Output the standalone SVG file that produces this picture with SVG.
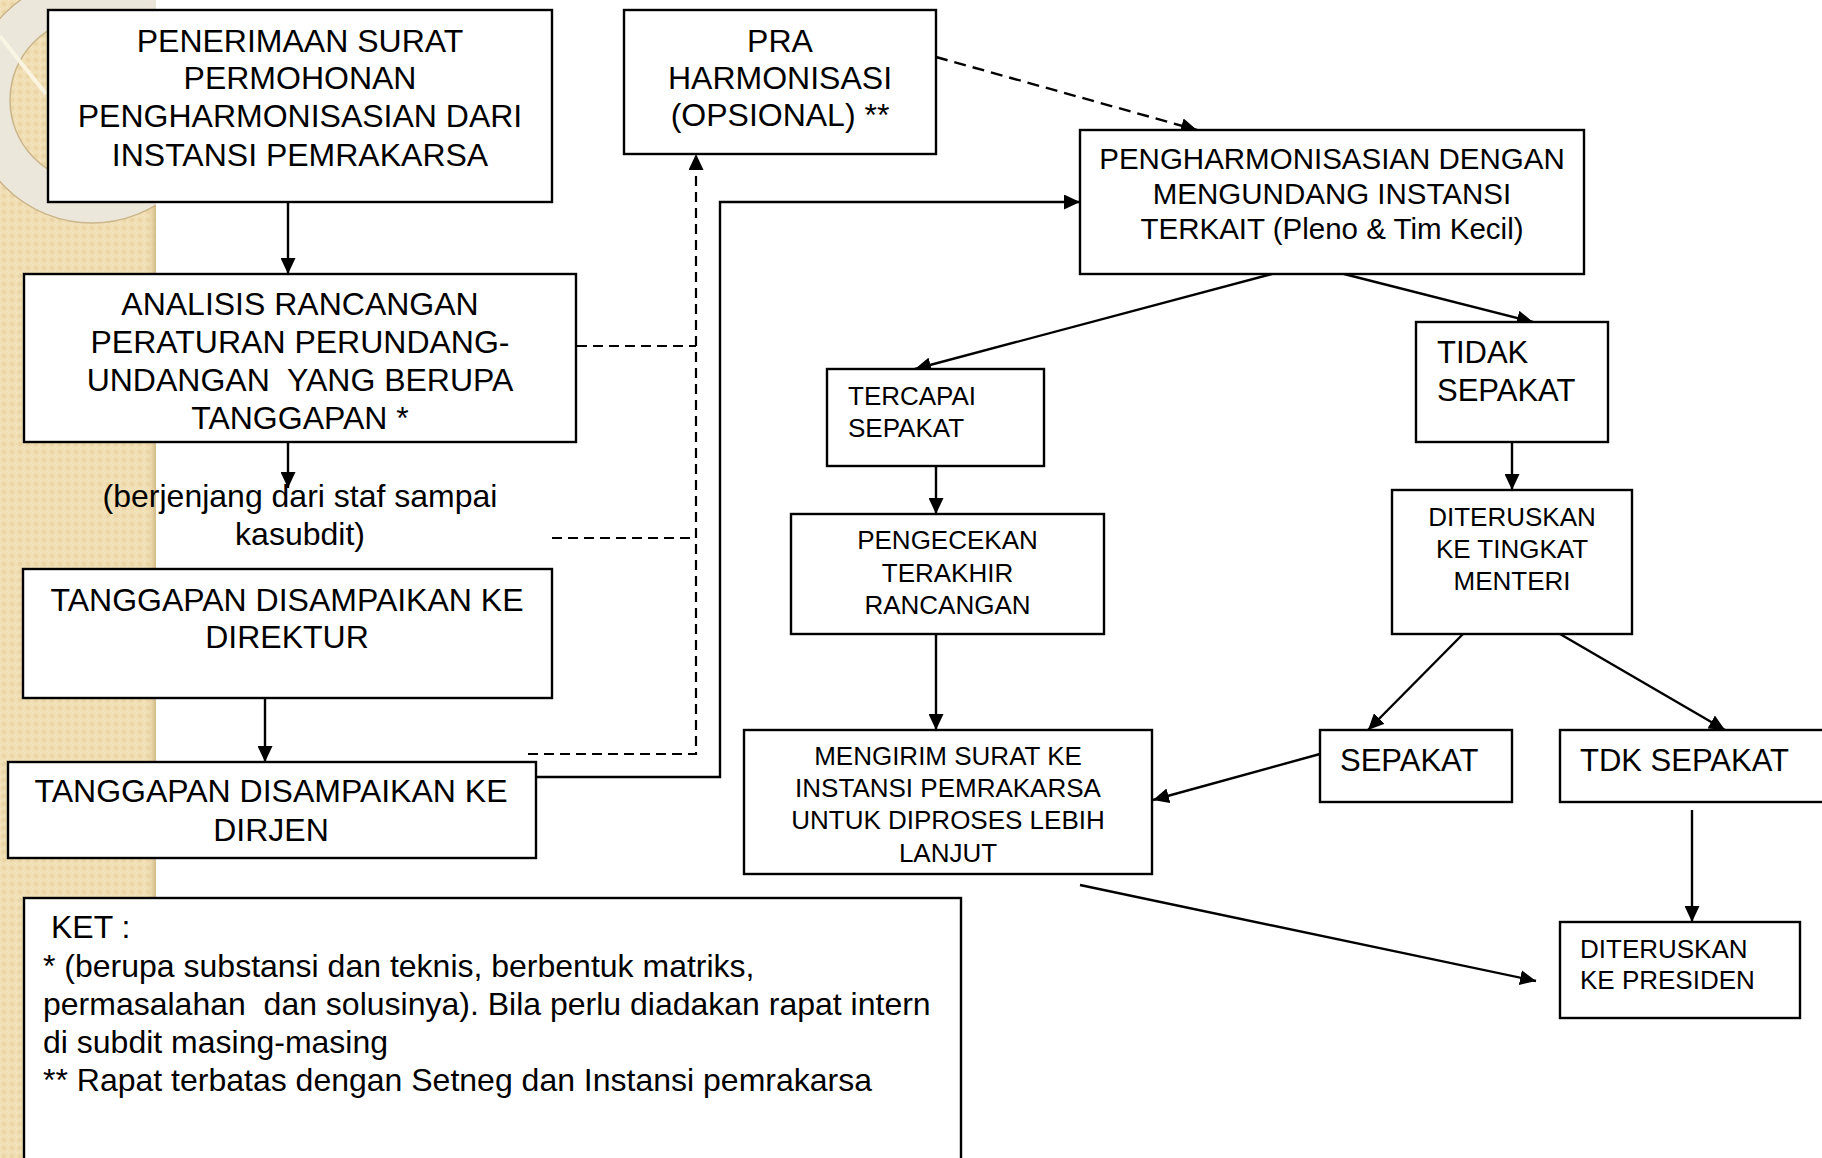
<svg xmlns="http://www.w3.org/2000/svg" width="1822" height="1158" viewBox="0 0 1822 1158">
<style>
.box{fill:#fff;stroke:#000;stroke-width:2.4}
.t{font-family:"Liberation Sans",Arial,sans-serif;fill:#000}
.c{text-anchor:middle}
.f32{font-size:32px}
.f31{font-size:31px}
.f29{font-size:29.5px}
.f26{font-size:26px}
.ln{stroke:#000;stroke-width:2.4;fill:none}
.dash{stroke-dasharray:10 6;stroke-width:2.2}
</style>
<defs>
<pattern id="bp" width="8" height="8" patternUnits="userSpaceOnUse">
<rect width="8" height="8" fill="#f1dfb6"/>
<circle cx="4" cy="4" r="2.3" fill="#ead5a7"/>
<circle cx="0" cy="0" r="1.2" fill="#f6e8c8"/>
<circle cx="8" cy="8" r="1.2" fill="#f6e8c8"/>
</pattern>
<linearGradient id="edge" x1="0" y1="0" x2="1" y2="0">
<stop offset="0" stop-color="#e3cd9b" stop-opacity="0"/>
<stop offset="1" stop-color="#d2ba85"/>
</linearGradient>
<clipPath id="strip"><rect x="0" y="0" width="156" height="1158"/></clipPath>
<marker id="ah" markerUnits="userSpaceOnUse" markerWidth="17" markerHeight="15" refX="16" refY="7.5" orient="auto">
<path d="M0,0 L16,7.5 L0,15 z" fill="#000"/>
</marker>
</defs>

<rect x="0" y="0" width="1822" height="1158" fill="#fff"/>
<g id="background">
<rect x="0" y="0" width="156" height="1158" fill="url(#bp)"/>
<rect x="148" y="0" width="8" height="1158" fill="url(#edge)"/>
<g clip-path="url(#strip)">
<circle cx="92" cy="100" r="102.5" fill="none" stroke="#ebe7de" stroke-width="41" opacity="0.92"/>
<circle cx="92" cy="100" r="123" fill="none" stroke="#cbb68b" stroke-width="1.5"/>
<circle cx="92" cy="100" r="82" fill="none" stroke="#cbb68b" stroke-width="1.5"/>
<path d="M0,36 Q20,62 46,94" fill="none" stroke="#fbf6e6" stroke-width="4" opacity="0.9"/>
</g>
</g>

<g id="connectors">
<line class="ln" x1="288" y1="202" x2="288" y2="274" marker-end="url(#ah)"/>
<line class="ln" x1="288" y1="442" x2="288" y2="488" marker-end="url(#ah)"/>
<line class="ln" x1="265" y1="698" x2="265" y2="762" marker-end="url(#ah)"/>
<line class="ln dash" x1="577" y1="346" x2="696" y2="346"/>
<line class="ln dash" x1="552" y1="538" x2="696" y2="538"/>
<path class="ln dash" d="M528,754 H696 V154" marker-end="url(#ah)"/>
<path class="ln" d="M528,777 H720 V202 H1080" marker-end="url(#ah)"/>
<line class="ln" x1="936" y1="57" x2="1197" y2="130" stroke-dasharray="12 7" marker-end="url(#ah)"/>
<line class="ln" x1="1272" y1="274" x2="915" y2="369" marker-end="url(#ah)"/>
<line class="ln" x1="1344" y1="274" x2="1533" y2="322" marker-end="url(#ah)"/>
<line class="ln" x1="936" y1="466" x2="936" y2="514" marker-end="url(#ah)"/>
<line class="ln" x1="936" y1="634" x2="936" y2="730" marker-end="url(#ah)"/>
<line class="ln" x1="1512" y1="442" x2="1512" y2="490" marker-end="url(#ah)"/>
<line class="ln" x1="1463" y1="634" x2="1368" y2="730" marker-end="url(#ah)"/>
<line class="ln" x1="1560" y1="634" x2="1725" y2="730" marker-end="url(#ah)"/>
<line class="ln" x1="1320" y1="754" x2="1153" y2="800" marker-end="url(#ah)"/>
<line class="ln" x1="1692" y1="810" x2="1692" y2="922" marker-end="url(#ah)"/>
<line class="ln" x1="1080" y1="885" x2="1536" y2="981" marker-end="url(#ah)"/>
</g>

<g id="n-penerimaan">
<rect class="box" x="48" y="10" width="504" height="192"/>
<text class="t c f32" x="300" y="52">PENERIMAAN SURAT</text>
<text class="t c f32" x="300" y="89">PERMOHONAN</text>
<text class="t c f32" x="300" y="127">PENGHARMONISASIAN DARI</text>
<text class="t c f32" x="300" y="166">INSTANSI PEMRAKARSA</text>
</g>

<g id="n-pra">
<rect class="box" x="624" y="10" width="312" height="144"/>
<text class="t c f32" x="780" y="52">PRA</text>
<text class="t c f32" x="780" y="89">HARMONISASI</text>
<text class="t c f32" x="780" y="126">(OPSIONAL) **</text>
</g>

<g id="n-pengharmonisasian">
<rect class="box" x="1080" y="130" width="504" height="144"/>
<text class="t c f29" x="1332" y="169">PENGHARMONISASIAN DENGAN</text>
<text class="t c f29" x="1332" y="204">MENGUNDANG INSTANSI</text>
<text class="t c f29" x="1332" y="239">TERKAIT (Pleno &amp; Tim Kecil)</text>
</g>

<g id="n-analisis">
<rect class="box" x="24" y="274" width="552" height="168"/>
<text class="t c f32" x="300" y="315">ANALISIS RANCANGAN</text>
<text class="t c f32" x="300" y="353">PERATURAN PERUNDANG-</text>
<text class="t c f32" x="300" y="391" xml:space="preserve">UNDANGAN  YANG BERUPA</text>
<text class="t c f32" x="300" y="429">TANGGAPAN *</text>
</g>

<g id="n-berjenjang">
<text class="t c f32" x="300" y="507">(berjenjang dari staf sampai</text>
<text class="t c f32" x="300" y="545">kasubdit)</text>
</g>

<g id="n-direktur">
<rect class="box" x="23" y="569" width="529" height="129"/>
<text class="t c f32" x="287" y="611">TANGGAPAN DISAMPAIKAN KE</text>
<text class="t c f32" x="287" y="648">DIREKTUR</text>
</g>

<g id="n-dirjen">
<rect class="box" x="8" y="762" width="528" height="96"/>
<text class="t c f32" x="271" y="802">TANGGAPAN DISAMPAIKAN KE</text>
<text class="t c f32" x="271" y="841">DIRJEN</text>
</g>

<g id="n-tercapai">
<rect class="box" x="827" y="369" width="217" height="97"/>
<text class="t f26" x="848" y="405">TERCAPAI</text>
<text class="t f26" x="848" y="437">SEPAKAT</text>
</g>

<g id="n-tidak">
<rect class="box" x="1416" y="322" width="192" height="120"/>
<text class="t f31" x="1437" y="363">TIDAK</text>
<text class="t f31" x="1437" y="401">SEPAKAT</text>
</g>

<g id="n-pengecekan">
<rect class="box" x="791" y="514" width="313" height="120"/>
<text class="t c f26" x="947.5" y="549">PENGECEKAN</text>
<text class="t c f26" x="947.5" y="582">TERAKHIR</text>
<text class="t c f26" x="947.5" y="614">RANCANGAN</text>
</g>

<g id="n-menteri">
<rect class="box" x="1392" y="490" width="240" height="144"/>
<text class="t c f26" x="1512" y="526">DITERUSKAN</text>
<text class="t c f26" x="1512" y="558">KE TINGKAT</text>
<text class="t c f26" x="1512" y="590">MENTERI</text>
</g>

<g id="n-mengirim">
<rect class="box" x="744" y="730" width="408" height="144"/>
<text class="t c f26" x="948" y="765">MENGIRIM SURAT KE</text>
<text class="t c f26" x="948" y="797">INSTANSI PEMRAKARSA</text>
<text class="t c f26" x="948" y="829">UNTUK DIPROSES LEBIH</text>
<text class="t c f26" x="948" y="862">LANJUT</text>
</g>

<g id="n-sepakat">
<rect class="box" x="1320" y="730" width="192" height="72"/>
<text class="t f31" x="1340" y="771">SEPAKAT</text>
</g>

<g id="n-tdksepakat">
<rect class="box" x="1560" y="730" width="270" height="72"/>
<text class="t f31" x="1580" y="771">TDK SEPAKAT</text>
</g>

<g id="n-presiden">
<rect class="box" x="1560" y="922" width="240" height="96"/>
<text class="t f26" x="1580" y="958">DITERUSKAN</text>
<text class="t f26" x="1580" y="989">KE PRESIDEN</text>
</g>

<g id="n-ket">
<rect class="box" x="24" y="898" width="937" height="280"/>
<text class="t f32" x="51" y="938">KET :</text>
<text class="t f32" x="43" y="977">* (berupa substansi dan teknis, berbentuk matriks,</text>
<text class="t f32" x="43" y="1015" xml:space="preserve">permasalahan  dan solusinya). Bila perlu diadakan rapat intern</text>
<text class="t f32" x="43" y="1053">di subdit masing-masing</text>
<text class="t f32" x="43" y="1091">** Rapat terbatas dengan Setneg dan Instansi pemrakarsa</text>
</g>
</svg>
